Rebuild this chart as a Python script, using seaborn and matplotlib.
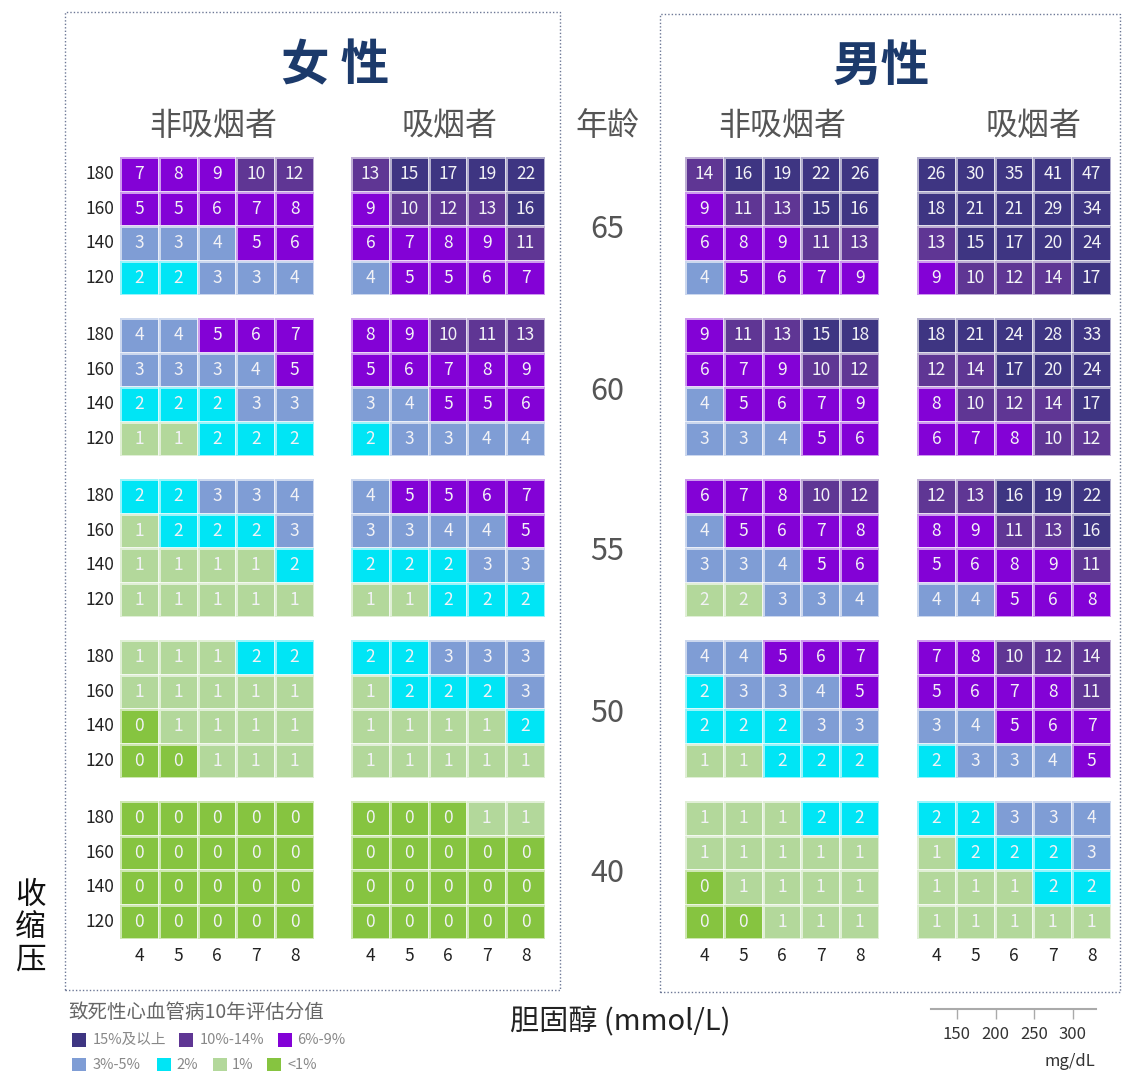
import numpy as np
import pandas as pd
import seaborn as sns
import matplotlib.pyplot as plt
from matplotlib.colors import ListedColormap, BoundaryNorm
from matplotlib.patches import Rectangle

# chart data
ages = [65, 60, 55, 50, 40]
sbp_levels = [180, 160, 140, 120]
chol_levels = [4, 5, 6, 7, 8]

women_nonsmoker = [
    [[7, 8, 9, 10, 12], [5, 5, 6, 7, 8], [3, 3, 4, 5, 6], [2, 2, 3, 3, 4]],
    [[4, 4, 5, 6, 7], [3, 3, 3, 4, 5], [2, 2, 2, 3, 3], [1, 1, 2, 2, 2]],
    [[2, 2, 3, 3, 4], [1, 2, 2, 2, 3], [1, 1, 1, 1, 2], [1, 1, 1, 1, 1]],
    [[1, 1, 1, 2, 2], [1, 1, 1, 1, 1], [0, 1, 1, 1, 1], [0, 0, 1, 1, 1]],
    [[0, 0, 0, 0, 0], [0, 0, 0, 0, 0], [0, 0, 0, 0, 0], [0, 0, 0, 0, 0]],
]
women_smoker = [
    [[13, 15, 17, 19, 22], [9, 10, 12, 13, 16], [6, 7, 8, 9, 11], [4, 5, 5, 6, 7]],
    [[8, 9, 10, 11, 13], [5, 6, 7, 8, 9], [3, 4, 5, 5, 6], [2, 3, 3, 4, 4]],
    [[4, 5, 5, 6, 7], [3, 3, 4, 4, 5], [2, 2, 2, 3, 3], [1, 1, 2, 2, 2]],
    [[2, 2, 3, 3, 3], [1, 2, 2, 2, 3], [1, 1, 1, 1, 2], [1, 1, 1, 1, 1]],
    [[0, 0, 0, 1, 1], [0, 0, 0, 0, 0], [0, 0, 0, 0, 0], [0, 0, 0, 0, 0]],
]
men_nonsmoker = [
    [[14, 16, 19, 22, 26], [9, 11, 13, 15, 16], [6, 8, 9, 11, 13], [4, 5, 6, 7, 9]],
    [[9, 11, 13, 15, 18], [6, 7, 9, 10, 12], [4, 5, 6, 7, 9], [3, 3, 4, 5, 6]],
    [[6, 7, 8, 10, 12], [4, 5, 6, 7, 8], [3, 3, 4, 5, 6], [2, 2, 3, 3, 4]],
    [[4, 4, 5, 6, 7], [2, 3, 3, 4, 5], [2, 2, 2, 3, 3], [1, 1, 2, 2, 2]],
    [[1, 1, 1, 2, 2], [1, 1, 1, 1, 1], [0, 1, 1, 1, 1], [0, 0, 1, 1, 1]],
]
men_smoker = [
    [[26, 30, 35, 41, 47], [18, 21, 21, 29, 34], [13, 15, 17, 20, 24], [9, 10, 12, 14, 17]],
    [[18, 21, 24, 28, 33], [12, 14, 17, 20, 24], [8, 10, 12, 14, 17], [6, 7, 8, 10, 12]],
    [[12, 13, 16, 19, 22], [8, 9, 11, 13, 16], [5, 6, 8, 9, 11], [4, 4, 5, 6, 8]],
    [[7, 8, 10, 12, 14], [5, 6, 7, 8, 11], [3, 4, 5, 6, 7], [2, 3, 3, 4, 5]],
    [[2, 2, 3, 3, 4], [1, 2, 2, 2, 3], [1, 1, 1, 2, 2], [1, 1, 1, 1, 1]],
]
# cells whose colour in the source differs from their printed value
# (panel, age, sbp, cholesterol, colour-as-value)
colour_overrides = [("men_nonsmoker", 55, 120, 4, 1), ("men_nonsmoker", 55, 120, 5, 1)]

legend_labels = ["15%及以上", "10%-14%", "6%-9%", "3%-5%", "2%", "1%", "<1%"]
risk_colors = ["#3e3582", "#5f3694", "#8302d6", "#7f9dd5", "#00e5f5", "#b3d89b", "#86c440"]
# the source colours a printed 5 as the 6%-9% class
risk_bounds = [-0.5, 0.5, 1.5, 2.5, 4.5, 9.5, 14.5, 100]
mgdl_ticks = [150, 200, 250, 300]

panels = {
    "women_nonsmoker": women_nonsmoker,
    "women_smoker": women_smoker,
    "men_nonsmoker": men_nonsmoker,
    "men_smoker": men_smoker,
}

W, H = 1122, 1071
FONT = ["Noto Sans CJK SC", "DejaVu Sans"]

sns.set_theme(style="white")
plt.rcParams["font.family"] = FONT

fig = plt.figure(figsize=(W / 100, H / 100), dpi=100)
fig.patch.set_facecolor("white")


def fx(x):
    return x / W


def fy(y):
    return 1 - y / H


cmap = ListedColormap(risk_colors[::-1])
norm = BoundaryNorm(risk_bounds, cmap.N)

panel_left = {"women_nonsmoker": 120, "women_smoker": 351, "men_nonsmoker": 685, "men_smoker": 917}
group_top = [157, 318, 479, 640, 801]
pw, ph = 194, 138

for name, groups in panels.items():
    for gi, age in enumerate(ages):
        vals = pd.DataFrame(groups[gi], index=sbp_levels, columns=chol_levels)
        colour_vals = vals.copy()
        for pn, a, s, c, v in colour_overrides:
            if pn == name and a == age:
                colour_vals.loc[s, c] = v
        x0, y0 = panel_left[name], group_top[gi]
        ax = fig.add_axes([fx(x0), fy(y0 + ph), pw / W, ph / H])
        sns.heatmap(colour_vals, ax=ax, cmap=cmap, norm=norm, cbar=False,
                    annot=vals, fmt="d", linewidths=1.0, linecolor=(1, 1, 1, 0.6),
                    annot_kws={"color": "#f2f2f6", "fontsize": 12.5, "family": FONT},
                    xticklabels=(gi == len(ages) - 1), yticklabels=(name == "women_nonsmoker"))
        ax.tick_params(length=0, labelsize=12.5, colors="#222222")
        ax.tick_params(axis="y", pad=4, rotation=0)
        ax.tick_params(axis="x", pad=6)
        ax.set_xlabel("")
        ax.set_ylabel("")

# dotted frames
fig.add_artist(Rectangle((fx(65), fy(990)), (560 - 65) / W, (990 - 12) / H, transform=fig.transFigure,
                         fill=False, linestyle=(0, (1, 1.5)), linewidth=1, edgecolor="#6d7896"))
fig.add_artist(Rectangle((fx(660), fy(992)), (1120 - 660) / W, (992 - 14) / H, transform=fig.transFigure,
                         fill=False, linestyle=(0, (1, 1.5)), linewidth=1, edgecolor="#6d7896"))

# headings
fig.text(fx(335), fy(66), "女 性", ha="center", va="center", fontsize=35, fontweight="bold", color="#1c3a6b")
fig.text(fx(881), fy(66), "男性", ha="center", va="center", fontsize=35, fontweight="bold", color="#1c3a6b")
for label, xc in [("非吸烟者", 213), ("吸烟者", 450), ("年龄", 607), ("非吸烟者", 782), ("吸烟者", 1034)]:
    fig.text(fx(xc), fy(126), label, ha="center", va="center", fontsize=23, color="#555555")
for gi, age in enumerate(ages):
    fig.text(fx(607), fy(group_top[gi] + ph / 2 + 4), str(age), ha="center", va="center",
             fontsize=22, color="#555555")

fig.text(fx(30), fy(928), "收\n缩\n压", ha="center", va="center", fontsize=22, color="#111111",
         linespacing=1.05)
fig.text(fx(620), fy(1022), "胆固醇 (mmol/L)", ha="center", va="center", fontsize=21, color="#222222")

# legend
fig.text(fx(68), fy(1012), "致死性心血管病10年评估分值", ha="left", va="center", fontsize=14, color="#666666")
legend_pos = [(72, 1040, 93), (179, 1040, 200), (278, 1040, 297),
              (72, 1065, 93), (157, 1065, 176), (213, 1065, 232), (267, 1065, 287)]
for (sx, sy, tx), lab, col in zip(legend_pos, legend_labels, risk_colors):
    fig.add_artist(Rectangle((fx(sx), fy(sy + 7)), 14 / W, 14 / H, transform=fig.transFigure,
                             facecolor=col, edgecolor="none"))
    fig.text(fx(tx), fy(sy), lab, ha="left", va="center", fontsize=10.5, color="#888888")

# mg/dL scale
sax = fig.add_axes([fx(931), fy(1009), (1096 - 931) / W, 0.0001])
sax.set_xlim(116.4, 329.8)
sax.set_yticks([])
sax.set_xticks(mgdl_ticks)
for s in ["top", "left", "right"]:
    sax.spines[s].set_visible(False)
sax.spines["bottom"].set_color("#aaaaaa")
sax.spines["bottom"].set_linewidth(1.5)
sax.tick_params(axis="x", bottom=True, direction="out", length=7, width=1, color="#aaaaaa",
                labelsize=12, labelcolor="#333333", pad=5)
fig.text(fx(1070), fy(1062), "mg/dL", ha="center", va="center", fontsize=12, color="#333333")

fig.savefig("out.png", dpi=100)
